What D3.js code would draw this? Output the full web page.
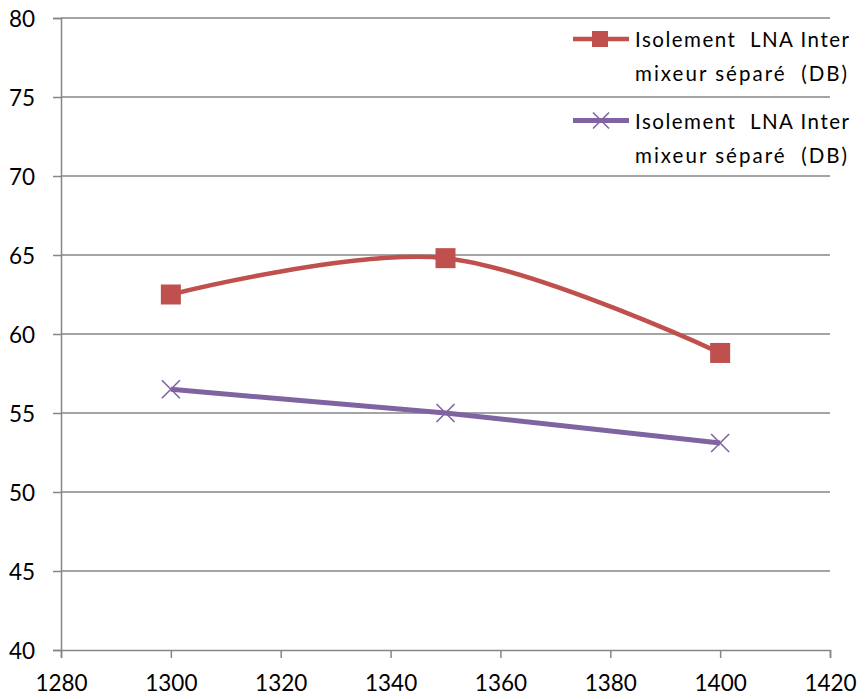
<!DOCTYPE html>
<html>
<head>
<meta charset="utf-8">
<script src="https://cdn.jsdelivr.net/npm/d3@7"></script>
<style>
  html, body { margin: 0; padding: 0; background: #fff; }
  svg text { font-family: Lato, "Open Sans", sans-serif; fill: #000; white-space: pre; }
</style>
</head>
<body>
<svg id="chart" width="865" height="699"></svg>
<script>
// Frequency (MHz) and isolation values for each series
const frequencies = [1300, 1350, 1400];
const isolationA = [62.5, 64.8, 58.8];
const isolationB = [56.5, 55.0, 53.1];
const seriesNames = [
  ["Isolement  LNA Inter", "mixeur séparé  (DB)"],
  ["Isolement  LNA Inter", "mixeur séparé  (DB)"]
];
const xTicks = [1280, 1300, 1320, 1340, 1360, 1380, 1400, 1420];
const yTicks = [40, 45, 50, 55, 60, 65, 70, 75, 80];

(function () {
const svg = d3.select("#chart");
const plotLeft = 61, plotRight = 830, plotTop = 18, plotBottom = 650;

const x = d3.scaleLinear().domain([1280, 1420]).range([plotLeft, plotRight]);
const y = d3.scaleLinear().domain([40, 80]).range([plotBottom, plotTop]);

const gridColor = "#868686";

// horizontal gridlines
svg.append("g").selectAll("line").data(yTicks.filter(d => d !== 40)).join("line")
  .attr("x1", plotLeft).attr("x2", plotRight)
  .attr("y1", d => y(d)).attr("y2", d => y(d))
  .attr("stroke", gridColor).attr("stroke-width", 1.5);

// y axis
const yAxis = svg.append("g").attr("transform", `translate(${plotLeft},0)`)
  .call(d3.axisLeft(y).tickValues(yTicks).tickSize(8).tickPadding(8).tickFormat(d3.format("d")));
yAxis.select(".domain").attr("stroke", gridColor).attr("stroke-width", 1.5);
yAxis.selectAll(".tick line").attr("stroke", gridColor).attr("stroke-width", 1.5);
yAxis.selectAll(".tick text").attr("font-size", 22.5).attr("font-family", "Lato, sans-serif").attr("fill", "#000")
  .attr("dx", "-10").attr("dy", "0.36em");

// x axis
const xAxis = svg.append("g").attr("transform", `translate(0,${plotBottom})`)
  .call(d3.axisBottom(x).tickValues(xTicks).tickSize(8).tickPadding(17).tickFormat(d3.format("d")));
xAxis.select(".domain").attr("stroke", gridColor).attr("stroke-width", 1.5);
xAxis.selectAll(".tick line").attr("stroke", gridColor).attr("stroke-width", 1.5);
xAxis.selectAll(".tick text").attr("font-size", 22.5).attr("font-family", "Lato, sans-serif").attr("fill", "#000");

const red = "#C0504D", purple = "#8064A2";

const ptsA = frequencies.map((f, i) => [f, isolationA[i]]);
const ptsB = frequencies.map((f, i) => [f, isolationB[i]]);

// series A: smoothed line with square markers
svg.append("path").datum(ptsA)
  .attr("fill", "none").attr("stroke", red).attr("stroke-width", 4.5)
  .attr("d", d3.line().x(d => x(d[0])).y(d => y(d[1])).curve(d3.curveCatmullRom.alpha(0)));
svg.append("g").selectAll("rect").data(ptsA).join("rect")
  .attr("x", d => x(d[0]) - 10).attr("y", d => y(d[1]) - 10)
  .attr("width", 20).attr("height", 20).attr("fill", red);

// series B: straight line with cross markers
svg.append("path").datum(ptsB)
  .attr("fill", "none").attr("stroke", purple).attr("stroke-width", 5)
  .attr("d", d3.line().x(d => x(d[0])).y(d => y(d[1])));
const cross = svg.append("g").selectAll("g").data(ptsB).join("g")
  .attr("transform", d => `translate(${x(d[0])},${y(d[1])})`);
cross.append("line").attr("x1", -9).attr("y1", -9).attr("x2", 9).attr("y2", 9)
  .attr("stroke", purple).attr("stroke-width", 1.6);
cross.append("line").attr("x1", -9).attr("y1", 9).attr("x2", 9).attr("y2", -9)
  .attr("stroke", purple).attr("stroke-width", 1.6);

// legend
const legendY = [39, 120.5];
const lineWidths = [214, 212];
const legend = svg.append("g");
seriesNames.forEach((lines, i) => {
  const g = legend.append("g").attr("transform", `translate(0,${legendY[i]})`);
  const col = i === 0 ? red : purple;
  g.append("line").attr("x1", 573).attr("x2", 629).attr("y1", 0).attr("y2", 0)
    .attr("stroke", col).attr("stroke-width", i === 0 ? 4.5 : 5);
  if (i === 0) {
    g.append("rect").attr("x", 592).attr("y", -8).attr("width", 16).attr("height", 16).attr("fill", red);
  } else {
    g.append("line").attr("x1", 593).attr("y1", -8).attr("x2", 609).attr("y2", 8).attr("stroke", purple).attr("stroke-width", 1.6);
    g.append("line").attr("x1", 593).attr("y1", 8).attr("x2", 609).attr("y2", -8).attr("stroke", purple).attr("stroke-width", 1.6);
  }
  lines.forEach((t, j) => {
    g.append("text").attr("x", 635).attr("y", 8 + j * 34)
      .attr("font-size", 20.5)
      .attr("textLength", lineWidths[j]).attr("lengthAdjust", "spacing")
      .text(t);
  });
});
})();
</script>
</body>
</html>
